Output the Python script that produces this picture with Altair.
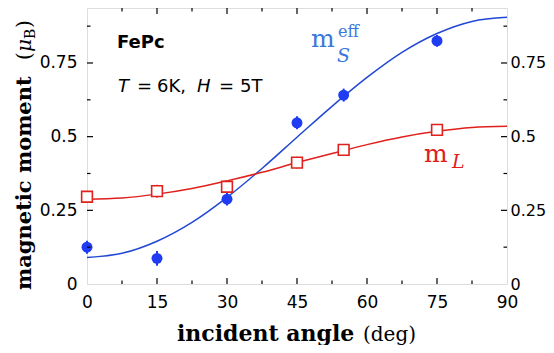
import altair as alt
import pandas as pd

# measured data
angles = [0, 15, 30, 45, 55, 75]
m_s = [0.125, 0.087, 0.288, 0.547, 0.641, 0.825]
m_s_err = [0.022, 0.025, 0.022, 0.022, 0.022, 0.02]
m_l = [0.296, 0.315, 0.330, 0.412, 0.455, 0.523]
m_l_err = [0.018, 0.022, 0.02, 0.02, 0.02, 0.018]

# fit curves
fit_angles = [0, 7.5, 15, 22.5, 30, 37.5, 45, 52.5, 60, 67.5, 75, 82.5, 90]
fit_s = [0.090, 0.104, 0.145, 0.209, 0.294, 0.392, 0.498, 0.603, 0.701, 0.786, 0.850, 0.891, 0.905]
fit_l = [0.288, 0.292, 0.305, 0.324, 0.350, 0.379, 0.412, 0.443, 0.473, 0.499, 0.518, 0.531, 0.535]

x_major = [15, 30, 45, 60, 75]
x_minor = [7.5, 22.5, 37.5, 52.5, 67.5, 82.5]
y_major = [0.25, 0.5, 0.75]
y_minor = [0.125, 0.375, 0.625, 0.875]
x_ticks = [0, 15, 30, 45, 60, 75, 90]
y_ticks = [0, 0.25, 0.5, 0.75]

W, H = 420, 276
BLUE_PT = "#1f3cf2"
BLUE_LINE = "#2148d4"
BLUE_LBL = "#3a78dc"
RED = "#e0201c"
TICKFONT = "DejaVu Sans"

xs = alt.Scale(domain=[0, 90], nice=False, zero=False)
ys = alt.Scale(domain=[0, 0.9366], nice=False, zero=False)

pts = pd.DataFrame({"a": angles, "s": m_s, "serr": m_s_err, "lv": m_l, "lerr": m_l_err})
pts["s_lo"] = pts["s"] - pts["serr"]
pts["s_hi"] = pts["s"] + pts["serr"]
pts["l_lo"] = pts["lv"] - pts["lerr"]
pts["l_hi"] = pts["lv"] + pts["lerr"]
fit = pd.DataFrame({"a": fit_angles, "s": fit_s, "lv": fit_l})

X = alt.X("a:Q", scale=xs, axis=alt.Axis(values=x_ticks, ticks=False, domain=False, grid=False,
                                          title=None, labelFont=TICKFONT, labelFontSize=17,
                                          labelColor="black", labelPadding=10, labelFlush=False))

base_y_axis = dict(values=y_ticks, ticks=False, domain=False, grid=False, title=None,
                   labelExpr="'' + datum.value", labelFont=TICKFONT, labelColor="black")

curve_s = alt.Chart(fit).mark_line(color=BLUE_LINE, strokeWidth=1.5, interpolate="monotone").encode(
    x=X, y=alt.Y("s:Q", scale=ys, axis=alt.Axis(orient="left", labelPadding=10, labelFontSize=17,
                                                **base_y_axis)))
curve_l = alt.Chart(fit).mark_line(color=RED, strokeWidth=1.5, interpolate="monotone").encode(
    x=alt.X("a:Q", scale=xs), y=alt.Y("lv:Q", scale=ys))

err_s = alt.Chart(pts).mark_rule(color=BLUE_PT, strokeWidth=2).encode(
    x=alt.X("a:Q", scale=xs), y=alt.Y("s_lo:Q", scale=ys), y2="s_hi:Q")
err_l = alt.Chart(pts).mark_rule(color=RED, strokeWidth=1.5).encode(
    x=alt.X("a:Q", scale=xs), y=alt.Y("l_lo:Q", scale=ys), y2="l_hi:Q")
pt_s = alt.Chart(pts).mark_point(shape="circle", filled=True, color=BLUE_PT, size=120, opacity=1).encode(
    x=alt.X("a:Q", scale=xs), y=alt.Y("s:Q", scale=ys))
pt_l = alt.Chart(pts).mark_point(shape="square", filled=True, fill="white", stroke=RED, strokeWidth=1.6,
                                 size=115, opacity=1).encode(
    x=alt.X("a:Q", scale=xs), y=alt.Y("lv:Q", scale=ys))

# inward ticks
def xt(vals, ln):
    d = pd.DataFrame({"v": vals})
    b = alt.Chart(d).mark_rule(color="black", strokeWidth=1.2)
    return [
        b.encode(x=alt.X("v:Q", scale=xs), y=alt.value(H), y2=alt.value(H - ln)),
        b.encode(x=alt.X("v:Q", scale=xs), y=alt.value(0), y2=alt.value(ln)),
    ]

def yt(vals, ln):
    d = pd.DataFrame({"v": vals})
    b = alt.Chart(d).mark_rule(color="black", strokeWidth=1.2)
    return [
        b.encode(y=alt.Y("v:Q", scale=ys), x=alt.value(0), x2=alt.value(ln)),
        b.encode(y=alt.Y("v:Q", scale=ys), x=alt.value(W), x2=alt.value(W - ln)),
    ]

ticks = xt(x_major, 6) + xt(x_minor, 3.5) + yt(y_major, 6) + yt(y_minor, 3.5)

def txt(s, x, y, **kw):
    return alt.Chart(pd.DataFrame({"t": [s]})).mark_text(**kw).encode(
        text="t:N", x=alt.value(x), y=alt.value(y))

OX, OY = 87, 8  # plot origin on page
sans = dict(font="DejaVu Sans", fontSize=18, color="black", align="left", baseline="alphabetic")
serif = "DejaVu Serif"
labels = [
    txt("FePc", 117 - OX, 48 - OY, font="DejaVu Sans", fontSize=18, fontWeight="bold",
        color="black", align="left", baseline="alphabetic"),
    txt("T", 118 - OX, 92 - OY, fontStyle="italic", **sans),
    txt("=", 137 - OX, 92 - OY, **sans),
    txt("6K,", 157 - OX, 92 - OY, **sans),
    txt("H", 197 - OX, 92 - OY, fontStyle="italic", **sans),
    txt("=", 219 - OX, 92 - OY, **sans),
    txt("5T", 240 - OX, 92 - OY, **sans),
    # m_S^eff
    txt("m", 311 - OX, 47 - OY, font=serif, fontSize=25, color=BLUE_LBL, align="left", baseline="alphabetic"),
    txt("eff", 338 - OX, 37 - OY, font=serif, fontSize=16, color=BLUE_LBL, align="left", baseline="alphabetic"),
    txt("S", 337 - OX, 62 - OY, font=serif, fontSize=19, fontStyle="italic", color=BLUE_LBL,
        align="left", baseline="alphabetic"),
    # m_L
    txt("m", 424 - OX, 162 - OY, font=serif, fontSize=25, color=RED, align="left", baseline="alphabetic"),
    txt("L", 452 - OX, 168 - OY, font=serif, fontSize=19, fontStyle="italic", color=RED,
        align="left", baseline="alphabetic"),
    # x title
    txt("incident angle", 177 - OX, 341 - OY, font=serif, fontSize=22, fontWeight="bold", color="black",
        align="left", baseline="alphabetic"),
    txt("(deg)", 363 - OX, 341 - OY, font=serif, fontSize=20, color="black", align="left",
        baseline="alphabetic"),
    # y title
    txt("magnetic moment", 31 - OX, 290 - OY, font=serif, fontSize=21, fontWeight="bold", color="black",
        align="left", baseline="alphabetic", angle=270),
    txt("(", 31 - OX, 60 - OY, font=serif, fontSize=20, color="black", align="left",
        baseline="alphabetic", angle=270),
    txt("μ", 31 - OX, 52 - OY, font=serif, fontSize=20, fontStyle="italic", color="black", align="left",
        baseline="alphabetic", angle=270),
    txt("B", 35 - OX, 39 - OY, font=serif, fontSize=14, color="black", align="left",
        baseline="alphabetic", angle=270),
    txt(")", 31 - OX, 28 - OY, font=serif, fontSize=20, color="black", align="left",
        baseline="alphabetic", angle=270),
]

right_axis = alt.Chart(fit).mark_line(opacity=0).encode(
    x=alt.X("a:Q", scale=xs),
    y=alt.Y("s:Q", scale=ys, axis=alt.Axis(orient="right", labelPadding=3, labelFontSize=16,
                                           **base_y_axis)))

left = alt.layer(curve_s, curve_l, err_s, err_l, pt_s, pt_l, *ticks, *labels)
chart = alt.layer(left, right_axis).resolve_axis(y="independent").properties(
    width=W, height=H,
    autosize=alt.AutoSizeParams(type="none"),
    padding={"left": 79, "top": 0, "right": 39, "bottom": 61},
).configure_view(stroke="black", strokeWidth=1.3).configure(background="white")

chart.save("out.html", embed_options={"renderer": "svg", "actions": False})
